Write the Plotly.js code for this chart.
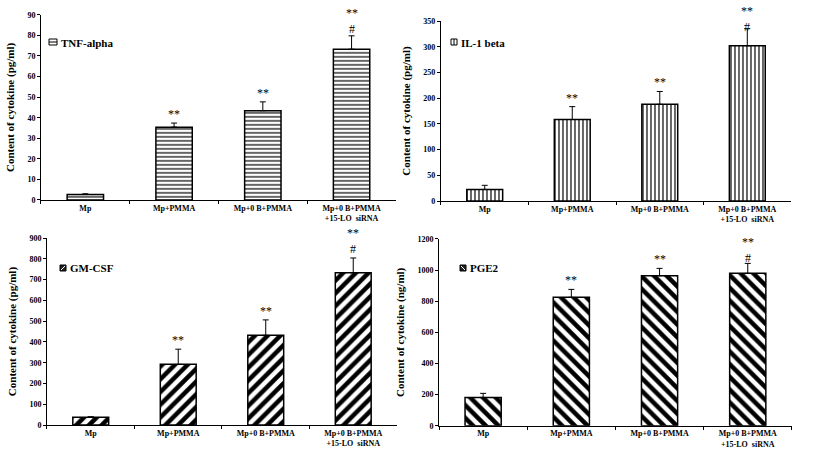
<!DOCTYPE html>
<html><head><meta charset="utf-8">
<script src="https://cdn.plot.ly/plotly-3.0.1.min.js"></script>
<style>html,body{margin:0;padding:0;background:#fff}#chart{width:813px;height:464px}</style>
</head><body><div id="chart"></div>
<script>
const categories = ["Mp", "Mp+PMMA", "Mp+0 B+PMMA", "Mp+0 B+PMMA<br>+15-LO  siRNA"];
const tnfValues = [2.7, 35.4, 43.4, 73.3];
const tnfErrors = [0.3, 2.0, 4.3, 6.5];
const il1Values = [22.5, 158.5, 188, 302];
const il1Errors = [8, 25, 25, 33];
const gmValues = [37, 292, 432, 733];
const gmErrors = [3, 73, 74, 71];
const pgeValues = [182, 825, 964, 979];
const pgeErrors = [26, 51, 47, 64];
const starMarks = ["", "**", "**", "**"];
const hashMarks = ["", "", "", "#"];
const panelNames = ["TNF-alpha", "IL-1 beta", "GM-CSF", "PGE2"];
const yTitles = ["Content of cytokine (pg/ml)", "Content of cytokine (pg/ml)", "Content of cytokine (pg/ml)", "Content of cytokine (ng/ml)"];
const yRanges = [[0, 90], [0, 350], [0, 900], [0, 1200]];
const yDticks = [10, 50, 100, 200];

const W = 813, H = 464;
const px = v => v / W, py = v => 1 - v / H;
const FONT = "Liberation Serif, Times New Roman, serif";
const panels = [
  {v: tnfValues, e: tnfErrors, shape: "-", size: 4, sol: 0.3, xd: [0.0504, 0.487], yd: [0.569, 0.968],
   sw: [49, 39, 57, 45], kind: "h", tx: 59, ty: 43, hs: -2},
  {v: il1Values, e: il1Errors, shape: "|", size: 4, sol: 0.3, xd: [0.5424, 0.973], yd: [0.5668, 0.9547],
   sw: [451, 39, 457, 45], kind: "v", tx: 459, ty: 43, hs: -7},
  {v: gmValues, e: gmErrors, shape: "/", size: 9, sol: 0.5, xd: [0.0578, 0.4883], yd: [0.084, 0.487],
   sw: [60, 265, 66, 271], kind: "d", tx: 68, ty: 268, hs: 0},
  {v: pgeValues, e: pgeErrors, shape: "\\", size: 9, sol: 0.5, xd: [0.540, 0.974], yd: [0.0825, 0.485],
   sw: [460, 265, 466, 271], kind: "b", tx: 468, ty: 268, hs: -4}
];

const data = [];
const layout = {
  width: W, height: H,
  margin: {l: 0, r: 0, t: 0, b: 0},
  paper_bgcolor: "#fff", plot_bgcolor: "#fff",
  font: {family: FONT, color: "#000"},
  bargap: 0.59,
  showlegend: false,
  annotations: [],
  shapes: []
};

panels.forEach((p, i) => {
  const n = i + 1;
  const xa = n === 1 ? "x" : "x" + n;
  const ya = n === 1 ? "y" : "y" + n;
  data.push({
    type: "bar", x: categories, y: p.v, name: panelNames[i],
    xaxis: xa, yaxis: ya,
    marker: {color: "#fff", line: {color: "#000", width: 1.5},
      pattern: {shape: p.shape, size: p.size, solidity: p.sol, fgcolor: "#000", bgcolor: "#fff", fillmode: "replace"}},
    error_y: {type: "data", symmetric: false, array: p.e, arrayminus: p.e.map(() => 0),
      color: "#000", thickness: 1, width: 3}
  });
  const xKey = n === 1 ? "xaxis" : "xaxis" + n;
  const yKey = n === 1 ? "yaxis" : "yaxis" + n;
  layout[xKey] = {
    domain: p.xd, anchor: ya, type: "category",
    showline: true, linecolor: "#000", linewidth: 1,
    ticks: "outside", tickson: "boundaries", ticklen: 3, tickcolor: "#000",
    showgrid: false, zeroline: false,
    tickfont: {family: FONT, size: 8, color: "#000", weight: "bold"}
  };
  layout[yKey] = {
    domain: p.yd, anchor: xa, range: yRanges[i], dtick: yDticks[i],
    showline: true, linecolor: "#000", linewidth: 1,
    ticks: "outside", ticklen: 3, tickcolor: "#000",
    showgrid: false, zeroline: false,
    tickfont: {family: FONT, size: 8, color: "#000", weight: "bold"},
    title: {text: yTitles[i], font: {family: FONT, size: 11, color: "#000", weight: "bold"}, standoff: 10}
  };
  // legend swatch and label
  const [x0, y0, x1, y1] = p.sw;
  const dark = (p.kind === "d" || p.kind === "b");
  layout.shapes.push({type: "rect", xref: "paper", yref: "paper", x0: px(x0), x1: px(x1), y0: py(y1), y1: py(y0),
    line: {color: "#000", width: 1}, fillcolor: dark ? "#222" : "#fff"});
  if (p.kind === "h") {
    layout.shapes.push({type: "line", xref: "paper", yref: "paper", x0: px(x0), x1: px(x1), y0: py((y0 + y1) / 2), y1: py((y0 + y1) / 2), line: {color: "#000", width: 1}});
  } else if (p.kind === "v") {
    layout.shapes.push({type: "line", xref: "paper", yref: "paper", x0: px((x0 + x1) / 2), x1: px((x0 + x1) / 2), y0: py(y0), y1: py(y1), line: {color: "#000", width: 1}});
  } else if (p.kind === "d") {
    layout.shapes.push({type: "line", xref: "paper", yref: "paper", x0: px(x0 + 1), x1: px(x1 - 1), y0: py(y1 - 1), y1: py(y0 + 1), line: {color: "#fff", width: 1}});
  } else {
    layout.shapes.push({type: "line", xref: "paper", yref: "paper", x0: px(x0 + 1), x1: px(x1 - 1), y0: py(y0 + 1), y1: py(y1 - 1), line: {color: "#fff", width: 1}});
  }
  layout.annotations.push({xref: "paper", yref: "paper", x: px(p.tx), y: py(p.ty), xanchor: "left", yanchor: "middle",
    text: panelNames[i], showarrow: false, font: {family: FONT, size: 11, color: "#000", weight: "bold"}});
  categories.forEach((c, j) => {
    if (!starMarks[j] && !hashMarks[j]) return;
    const top = p.v[j] + p.e[j];
    const txt = hashMarks[j] ? starMarks[j] + "<br>" + hashMarks[j] : starMarks[j];
    layout.annotations.push({xref: xa, yref: ya, x: c, y: top, text: txt, showarrow: false,
      yanchor: "bottom", yshift: hashMarks[j] ? p.hs : 0, font: {family: FONT, size: 12, color: "#000"}});
  });
});

Plotly.newPlot("chart", data, layout, {displayModeBar: false, staticPlot: true});
</script></body></html>
